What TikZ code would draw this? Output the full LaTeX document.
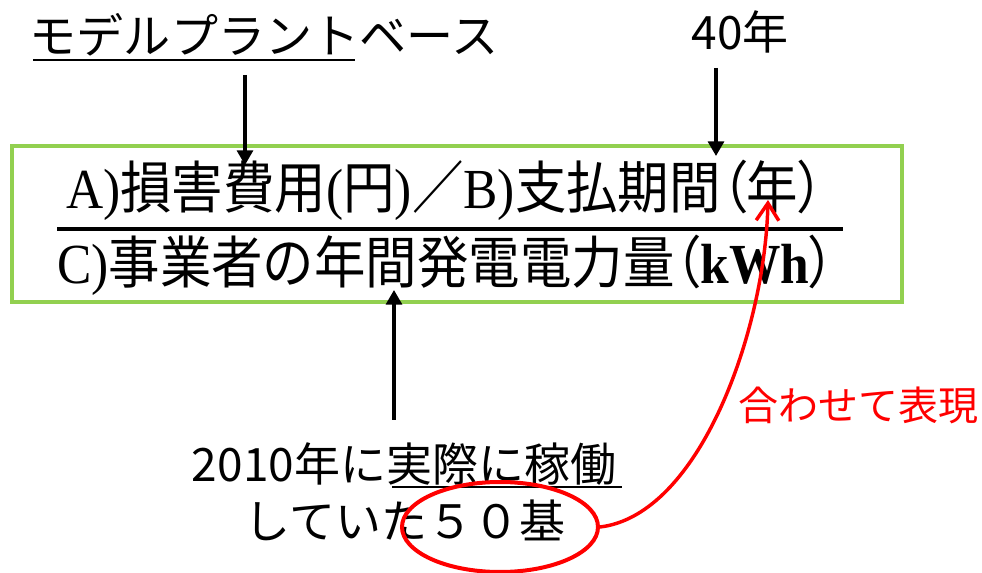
\documentclass[tikz,border=0pt]{standalone}
\usepackage{fontspec}
\usepackage{graphicx}
\setmainfont{Liberation Serif}
\newfontfamily\jp{Noto Sans CJK JP}
\newfontfamily\jpp[RawFeature=+palt]{Noto Sans CJK JP}
\usetikzlibrary{arrows.meta,shapes.geometric}
\definecolor{boxgreen}{RGB}{146,208,80}
\definecolor{myred}{RGB}{255,0,0}
\newcommand\J[1]{{\jp #1}}
\newcommand\JP[1]{{\jpp #1}}
\newcommand\tall[1]{\scalebox{1}[1.1]{#1}}
\begin{document}
\begin{tikzpicture}[x=0.75pt,y=-0.75pt,
  txt/.style={inner sep=0pt, anchor=center},
  big/.style={font=\jp\fontsize{35.3pt}{40pt}\selectfont},
  mid/.style={font=\jp\fontsize{34.5pt}{40pt}\selectfont},
  formula/.style={font=\fontsize{38.6pt}{44pt}\selectfont},
  redtxt/.style={font=\jp\fontsize{30pt}{36pt}\selectfont, text=myred},
  blackarrow/.style={line width=2.4pt, -{Triangle[length=11pt,width=12pt]}},
  redarrow/.style={myred, line width=2.6pt, -{Straight Barb[length=13pt,width=17pt]}},
  uline/.style={line width=2.2pt}]
\useasboundingbox (0,0) rectangle (982,573);
% green frame
\node[draw=boxgreen, line width=3.6pt, minimum width=890*0.75pt, minimum height=156*0.75pt, inner sep=0pt] (box) at (457,224) {};
% texts
\node[txt, big] (title) at (264,35) {モデルプラントベース};
\node[txt, mid] (forty) at (740,32) {40年};
\node[txt, formula] (num) at (445,190) {\tall{A)\J{損害費用}(\J{円})\J{／}B)\J{支払期間}\JP{（}\J{年}\JP{）}}};
\node[txt, formula] (den) at (446,265) {\tall{C)\J{事業者の年間発電電力量}\JP{（}\textbf{kWh}\JP{）}}};
\node[txt, mid] (b1) at (404,464) {2010年に実際に稼働};
\node[txt, mid] (b2) at (405,520) {していた５０基};
\node[txt, redtxt] (rt) at (858,405) {合わせて表現};
% underlines and fraction bar
\draw[uline] (33,60) -- (355,60);
\draw[uline] (392,487) -- (622,487);
\draw[line width=2.4pt] (57,229) -- (843,229);
% arrows
\coordinate (a1s) at (245,75);  \coordinate (a1e) at (245,165);
\coordinate (a2s) at (716,68);  \coordinate (a2e) at (716,156);
\coordinate (a3s) at (394,420); \coordinate (a3e) at (394,290);
\draw[blackarrow] (a1s) -- (a1e);
\draw[blackarrow] (a2s) -- (a2e);
\draw[blackarrow] (a3s) -- (a3e);
% red ellipse and curve
\node[draw=myred, line width=3pt, ellipse, minimum width=196*0.75pt, minimum height=90*0.75pt, inner sep=0pt] (ell) at (500,527) {};
\coordinate (rtip) at (768,200);
\draw[redarrow] (ell.east) .. controls (700,515) and (765,330) .. (rtip);
\end{tikzpicture}
\end{document}
